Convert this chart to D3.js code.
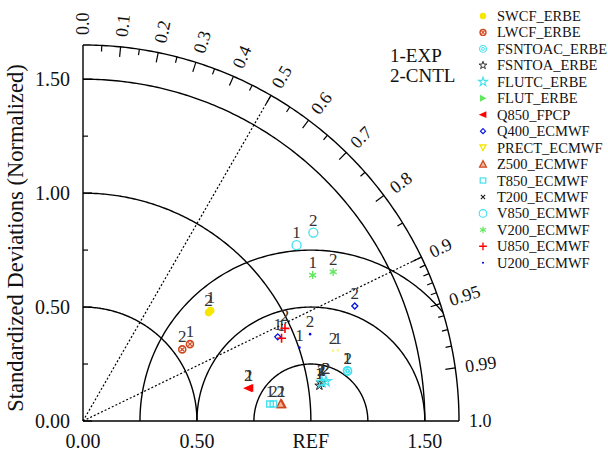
<!DOCTYPE html>
<html>
<head>
<meta charset="utf-8">
<script src="https://cdn.jsdelivr.net/npm/d3@7"></script>
<style>
  html, body { margin: 0; padding: 0; background: #fff; }
  svg { display: block; }
  text { font-family: "Liberation Serif", "Times New Roman", serif; fill: #111; }
</style>
</head>
<body>
<svg id="chart" width="608" height="455"></svg>
<script>
// Taylor diagram: normalized standard deviation (radius) vs. correlation (angle)
const seriesNames = ["SWCF_ERBE", "LWCF_ERBE", "FSNTOAC_ERBE", "FSNTOA_ERBE", "FLUTC_ERBE", "FLUT_ERBE",
  "Q850_FPCP", "Q400_ECMWF", "PRECT_ECMWF", "Z500_ECMWF", "T850_ECMWF", "T200_ECMWF",
  "V850_ECMWF", "V200_ECMWF", "U850_ECMWF", "U200_ECMWF"];

// case 1 (EXP)
const expStd  = [0.741, 0.578, 1.181, 1.049, 1.062, 1.062, 0.744, 0.931, 1.160, 0.875, 0.824, 1.049, 1.214, 1.194, 0.944, 1.003];
const expCorr = [0.756, 0.812, 0.9823, 0.989, 0.987, 0.987, 0.981, 0.918, 0.964, 0.9964, 0.9959, 0.989, 0.772, 0.844, 0.923, 0.947];
// case 2 (CNTL)
const cntlStd  = [0.728, 0.537, 1.182, 1.059, 1.080, 1.080, 0.739, 1.295, 1.139, 0.871, 0.839, 1.059, 1.306, 1.278, 0.975, 1.067];
const cntlCorr = [0.757, 0.811, 0.9828, 0.9875, 0.987, 0.987, 0.981, 0.921, 0.963, 0.9963, 0.996, 0.9875, 0.774, 0.859, 0.909, 0.934];

const caseLabels = ["1-EXP", "2-CNTL"];
const stdTicks = [0, 0.5, 1.0, 1.5];
const stdTickText = ["0.00", "0.50", "REF", "1.50"];
const stdArcs = [0.5, 1.0, 1.5];
const rmsArcs = [0.25, 0.5, 0.75];
const corrLabels = [0.0, 0.1, 0.2, 0.3, 0.4, 0.5, 0.6, 0.7, 0.8, 0.9, 0.95, 0.99, 1.0];
const corrMinor = [0.05, 0.15, 0.25, 0.35, 0.45, 0.55, 0.65, 0.75, 0.85, 0.91, 0.92, 0.93, 0.94, 0.96, 0.97, 0.98];
const corrRefLines = [0.5, 0.9];
const stdMax = 1.65;

// marker styles in legend order; plotScale shrinks markers that sit under others
const markerStyles = [
  { shape: "dot", color: "#f7e600" },
  { shape: "circleX", color: "#d0461c" },
  { shape: "ring2", color: "#40e0ef" },
  { shape: "flower", color: "#111" },
  { shape: "star", color: "#40e0ef" },
  { shape: "triRight", color: "#5ee85a", plotScale: 0.35 },
  { shape: "triLeft", color: "#ff0000" },
  { shape: "diamond", color: "#0010e0" },
  { shape: "triDown", color: "#f7e600", plotScale: 0.3 },
  { shape: "triUp", color: "#d0461c" },
  { shape: "square", color: "#40e0ef" },
  { shape: "x", color: "#111", plotScale: 0.6 },
  { shape: "circle", color: "#40e0ef" },
  { shape: "asterisk", color: "#5ee85a" },
  { shape: "plus", color: "#ff0000" },
  { shape: "smalldot", color: "#0010e0" }
];
// stacking order of the plotted series (first drawn = bottom)
const drawOrder = [5, 11, 8, 0, 1, 2, 3, 4, 6, 7, 9, 10, 12, 13, 14, 15];

const svg = d3.select("#chart");
const ox = 83, oy = 421;
const r = d3.scaleLinear().domain([0, stdMax]).range([0, 376]);
const R = r(stdMax);
const polar = (s, c) => {
  const a = Math.acos(Math.max(-1, Math.min(1, c)));
  return [ox + r(s) * Math.cos(a), oy - r(s) * Math.sin(a)];
};

// clip to the quarter disc
svg.append("defs").append("clipPath").attr("id", "quarter")
  .append("path")
  .attr("d", `M${ox},${oy} L${ox + R},${oy} A${R},${R} 0 0 0 ${ox},${oy - R} Z`);

const arcPath = (cx, cy, rad, a0, a1) => {
  const pts = d3.range(0, 181).map(i => a0 + (a1 - a0) * i / 180);
  return pts.map((a, i) => `${i ? "L" : "M"}${cx + rad * Math.cos(a)},${cy - rad * Math.sin(a)}`).join("");
};

const grid = svg.append("g").attr("fill", "none").attr("stroke", "#000");

// standard deviation arcs and outer arc
stdArcs.concat([stdMax]).forEach(s => {
  grid.append("path").attr("d", arcPath(ox, oy, r(s), 0, Math.PI / 2)).attr("stroke-width", 1.4);
});

// centred RMS difference arcs around REF
const refX = ox + r(1);
rmsArcs.forEach(d => {
  grid.append("path").attr("clip-path", "url(#quarter)")
    .attr("d", arcPath(refX, oy, r(d), 0, Math.PI)).attr("stroke-width", 1.4);
});

// dotted correlation reference lines
corrRefLines.forEach(c => {
  const [x, y] = polar(stdMax, c);
  grid.append("line").attr("x1", ox).attr("y1", oy).attr("x2", x).attr("y2", y)
    .attr("stroke-width", 1.2).attr("stroke-dasharray", "2,2");
});

// axes
grid.append("line").attr("x1", ox).attr("y1", oy).attr("x2", ox).attr("y2", oy - R).attr("stroke-width", 1.4);
grid.append("line").attr("x1", ox).attr("y1", oy).attr("x2", ox + R).attr("y2", oy).attr("stroke-width", 1.4);

// left axis ticks (inward)
d3.range(0, 7).map(i => i * 0.25).forEach(s => {
  const major = Math.abs(s * 2 - Math.round(s * 2)) < 1e-6;
  grid.append("line").attr("x1", ox).attr("x2", ox + (major ? 9 : 5))
    .attr("y1", oy - r(s)).attr("y2", oy - r(s)).attr("stroke-width", 1.2);
});

// left axis labels
svg.append("g").selectAll("text").data(stdTicks).join("text")
  .attr("x", 70).attr("y", d => oy - r(d))
  .attr("text-anchor", "end").attr("dominant-baseline", "central")
  .attr("font-size", 20)
  .text(d => d.toFixed(2));

// bottom axis labels
svg.append("g").selectAll("text").data(stdTicks).join("text")
  .attr("x", d => ox + r(d)).attr("y", 448)
  .attr("text-anchor", "middle").attr("font-size", 20)
  .text((d, i) => stdTickText[i]);

// y axis title
svg.append("text").attr("transform", `translate(23,238) rotate(-90)`)
  .attr("text-anchor", "middle").attr("font-size", 22.5)
  .text("Standardized Deviations (Normalized)");

// correlation ticks on the outer arc
const tickAt = (c, len) => {
  const a = Math.acos(c);
  grid.append("line")
    .attr("x1", ox + R * Math.cos(a)).attr("y1", oy - R * Math.sin(a))
    .attr("x2", ox + (R - len) * Math.cos(a)).attr("y2", oy - (R - len) * Math.sin(a))
    .attr("stroke-width", 1.2);
};
corrLabels.forEach(c => { if (c > 0 && c < 1) tickAt(c, 10); });
corrMinor.forEach(c => tickAt(c, 6));

// correlation labels
svg.append("g").selectAll("text").data(corrLabels).join("text")
  .attr("transform", c => {
    const a = Math.acos(c);
    const rr = R + 10;
    return `translate(${ox + rr * Math.cos(a)},${oy - rr * Math.sin(a)}) rotate(${-a * 180 / Math.PI})`;
  })
  .attr("dominant-baseline", "central").attr("font-size", 18)
  .text(c => String(c === 0 ? "0.0" : c === 1 ? "1.0" : c));

// markers
function drawMarker(g, st, x, y, scale) {
  const k = scale || 1;
  const m = g.append("g").attr("transform", `translate(${x},${y}) scale(${k})`);
  const c = st.color;
  switch (st.shape) {
    case "dot":
      m.append("circle").attr("r", 3.8).attr("fill", c); break;
    case "circleX":
      m.append("circle").attr("r", 3.5).attr("fill", "none").attr("stroke", c).attr("stroke-width", 1.6);
      m.append("path").attr("d", "M-1.8,-1.8L1.8,1.8M-1.8,1.8L1.8,-1.8").attr("stroke", c).attr("stroke-width", 1.2); break;
    case "ring2":
      m.append("circle").attr("r", 4).attr("fill", "none").attr("stroke", c).attr("stroke-width", 1.3);
      m.append("circle").attr("r", 1.7).attr("fill", "none").attr("stroke", c).attr("stroke-width", 1.1); break;
    case "flower":
      m.append("path").attr("d", d3.symbol(d3.symbolStar, 26)()).attr("fill", "none").attr("stroke", c).attr("stroke-width", 1); break;
    case "star":
      m.append("path").attr("d", d3.symbol(d3.symbolStar, 34)()).attr("fill", "none").attr("stroke", c).attr("stroke-width", 1.3); break;
    case "triRight":
      m.append("path").attr("d", "M-3.5,-4L4,0L-3.5,4Z").attr("fill", c); break;
    case "triLeft":
      m.append("path").attr("d", "M4,-4L-5,0L4,4Z").attr("fill", c); break;
    case "diamond":
      m.append("path").attr("d", "M0,-3L3,0L0,3L-3,0Z").attr("fill", "none").attr("stroke", c).attr("stroke-width", 1.3); break;
    case "triDown":
      m.append("path").attr("d", "M-3.5,-3L3.5,-3L0,3.5Z").attr("fill", "none").attr("stroke", c).attr("stroke-width", 1.6); break;
    case "triUp":
      m.append("path").attr("d", "M-4,3.5L4,3.5L0,-4Z").attr("fill", "#f3b59a").attr("stroke", c).attr("stroke-width", 1.5); break;
    case "square":
      m.append("rect").attr("x", -3.3).attr("y", -3).attr("width", 6.6).attr("height", 6).attr("fill", "none").attr("stroke", c).attr("stroke-width", 1.4); break;
    case "x":
      m.append("path").attr("d", "M-2.5,-2.5L2.5,2.5M-2.5,2.5L2.5,-2.5").attr("stroke", c).attr("stroke-width", 1.2); break;
    case "circle":
      m.append("circle").attr("r", 4.5).attr("fill", "none").attr("stroke", c).attr("stroke-width", 1.3); break;
    case "asterisk":
      m.append("path").attr("d", "M0,-4V4M-3.5,-2L3.5,2M-3.5,2L3.5,-2").attr("stroke", c).attr("stroke-width", 1.3); break;
    case "plus":
      m.append("path").attr("d", "M0,-4.5V4.5M-4.5,0H4.5").attr("stroke", c).attr("stroke-width", 1.6); break;
    case "smalldot":
      m.append("circle").attr("r", 1.3).attr("fill", c); break;
  }
}

// case labels and markers
const pts = svg.append("g");
const cases = [
  { std: expStd, corr: expCorr, tag: "1" },
  { std: cntlStd, corr: cntlCorr, tag: "2" }
];
cases.forEach(cs => {
  pts.append("g").selectAll("text").data(drawOrder).join("text")
    .attr("x", i => polar(cs.std[i], cs.corr[i])[0])
    .attr("y", i => polar(cs.std[i], cs.corr[i])[1] - 7)
    .attr("text-anchor", "middle").attr("font-size", 17).style("fill", "#333")
    .text(cs.tag);
});
drawOrder.forEach(i => {
  cases.forEach(cs => {
    const [x, y] = polar(cs.std[i], cs.corr[i]);
    drawMarker(pts, markerStyles[i], x, y, markerStyles[i].plotScale || 1);
  });
});

// legend
const legend = svg.append("g");
seriesNames.forEach((name, i) => {
  const y = 16 + i * 16.45;
  drawMarker(legend, markerStyles[i], 483, y, 0.85);
  legend.append("text").attr("x", 497).attr("y", y).attr("dominant-baseline", "central")
    .attr("font-size", 14.5).text(name);
});

// case key
svg.append("g").selectAll("text").data(caseLabels).join("text")
  .attr("x", 390).attr("y", (d, i) => 62 + i * 20)
  .attr("font-size", 19).text(d => d);
</script>
</body>
</html>
